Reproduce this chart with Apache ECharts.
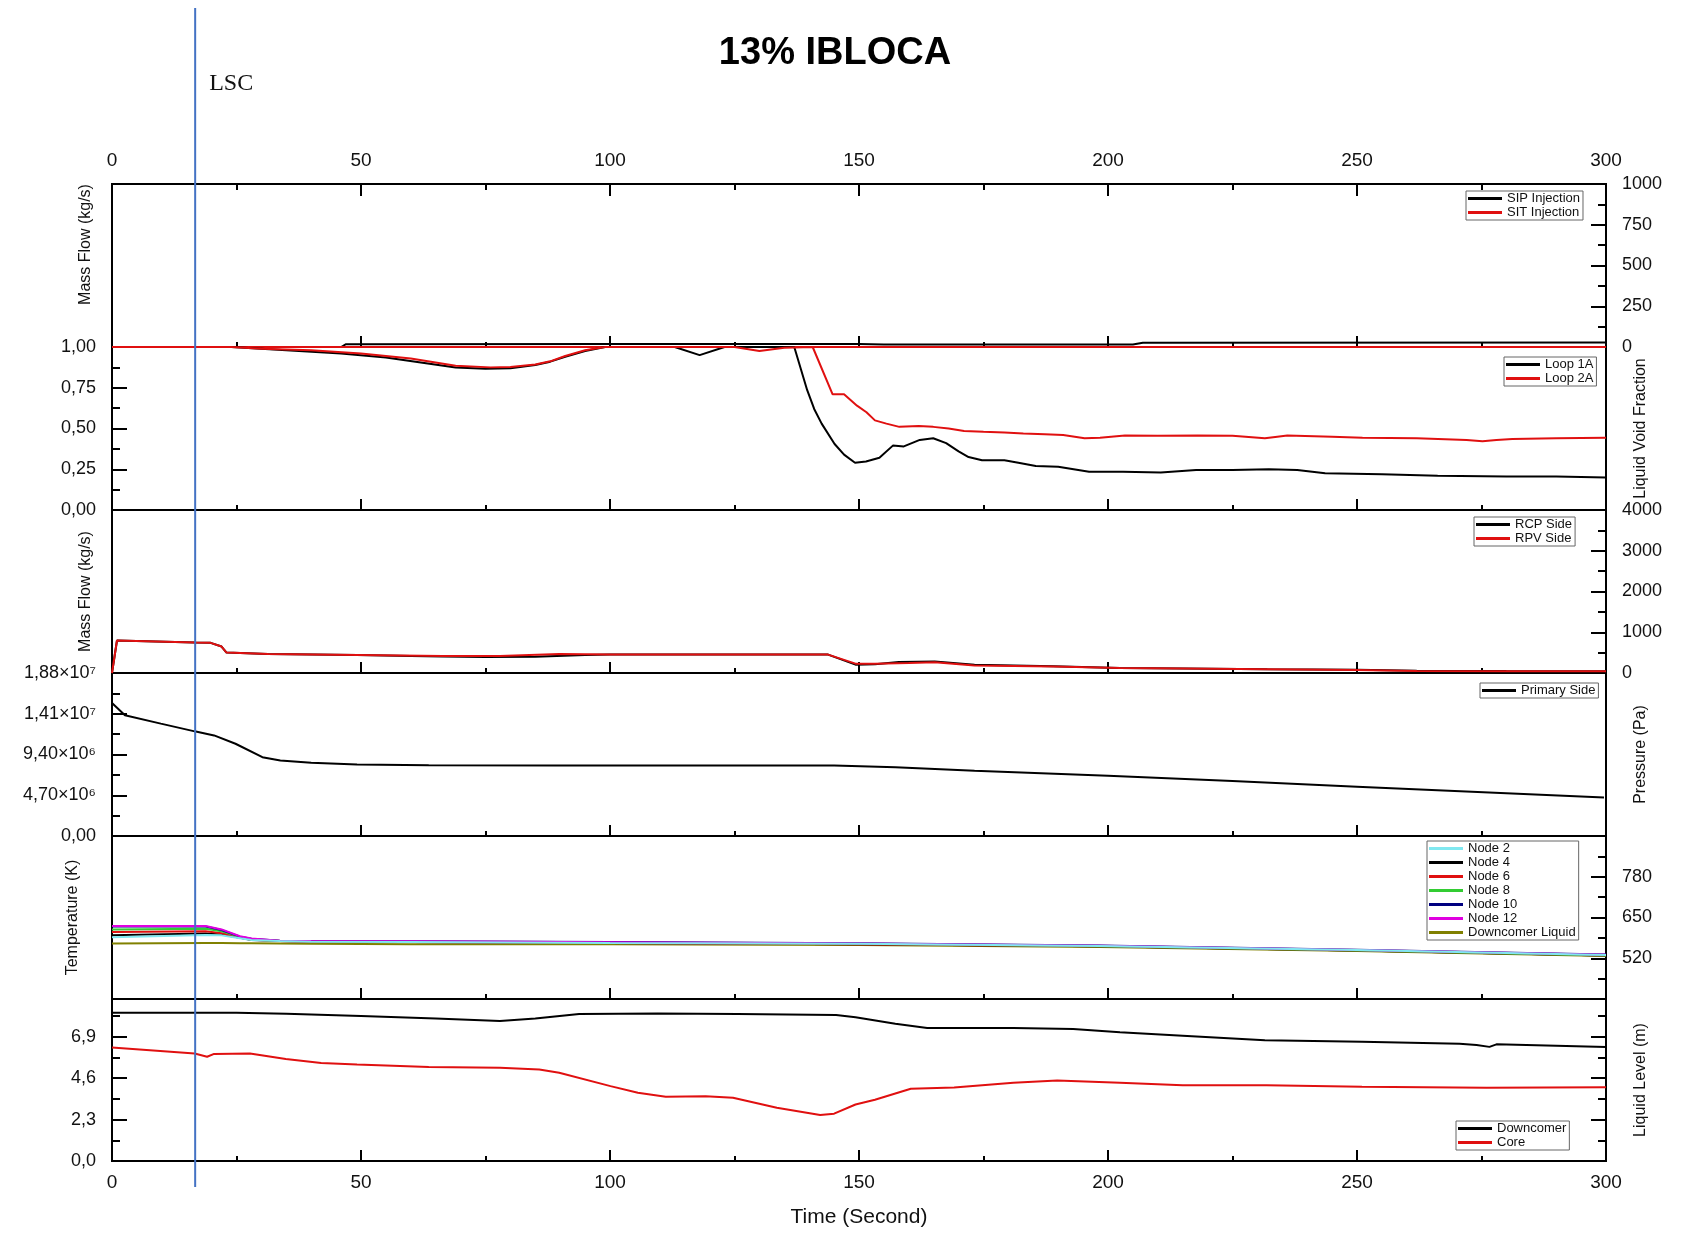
<!DOCTYPE html>
<html>
<head>
<meta charset="utf-8">
<title>13% IBLOCA</title>
<script src="https://cdn.jsdelivr.net/npm/echarts@6/dist/echarts.min.js"></script>
<style>
  html, body { margin: 0; padding: 0; background: #fff; }
  #main { width: 1688px; height: 1233px; }
</style>
</head>
<body>
<div id="main"></div>
<script>
// ---- data: [time (s), value] ----
var LSC_TIME = 16.7;

// panel 1 : injection mass flow (kg/s)
var sipInjection = [[0,0],[46,0],[47,17],[100,18],[150,18],[155,15],[205,16],[207,26],[300,28]];
var sitInjection = [[0,0],[300,0]];

// panel 2 : liquid void fraction
var loop1A = [[0,1],[24,1],[35,0.98],[46,0.96],[55,0.935],[62,0.905],[69,0.874],[75,0.866],[80,0.87],[85,0.89],
  [88,0.91],[91,0.94],[95,0.975],[99,1],[113,1],[118,0.95],[123,1],[137,1],[139.6,0.735],[141,0.62],
  [142.5,0.53],[145.1,0.405],[147,0.34],[149.2,0.29],[151.4,0.298],[154.1,0.32],[156.8,0.395],[159,0.39],[162.2,0.43],[164.9,0.44],
  [167.5,0.41],[170,0.36],[172,0.325],[174.7,0.305],[179.2,0.305],[182,0.29],[185.5,0.27],[190,0.265],[196.2,0.235],[203,0.235],
  [210.6,0.23],[217.7,0.245],[225,0.245],[232.3,0.25],[238,0.245],[243.6,0.225],[255,0.22],[266.2,0.21],[280,0.205],[290,0.205],[300,0.2]];
var loop2A = [[0,1],[24,1],[30,0.99],[40,0.98],[50,0.96],[60,0.93],[69,0.885],[76,0.875],[80,0.878],[85,0.893],
  [88,0.912],[91,0.945],[95,0.98],[99,1],[125,1],[130,0.975],[135,0.995],[140.7,1],[144.7,0.71],[147,0.71],
  [149.6,0.64],[151.5,0.6],[153.2,0.55],[155.5,0.53],[158.1,0.51],[162,0.515],[164.9,0.51],[168,0.5],[171.1,0.485],[175,0.48],
  [179.2,0.475],[183,0.47],[187.3,0.465],[191,0.46],[195.3,0.44],[198.4,0.443],[203.4,0.457],[210,0.455],[218,0.457],[225,0.455],
  [231.5,0.44],[234,0.45],[236,0.457],[245,0.45],[251.1,0.443],[262,0.44],[272,0.43],[275.2,0.422],[278,0.43],[281.2,0.435],[290,0.44],[300,0.443]];

// panel 3 : break mass flow (kg/s)
var rcpSide = [[0,0],[1,797],[16.6,749],[19.8,740],[22,650],[23,502],[31.3,469],[49.2,444],[60,420],[66.4,403],
  [75,395],[85,400],[95,440],[100,452],[143.8,452],[149.3,205],[153.2,215],[158,270],[165.2,283],[173.2,200],
  [189,165],[202.4,125],[215,112],[232,95],[250,80],[262,55],[280,50],[300,45]];
var rpvSide = [[0,0],[1,797],[16.6,749],[19.8,740],[22,650],[23,502],[31.3,469],[49.2,444],[66.4,420],[77.9,415],
  [89.8,465],[100,452],[143.8,452],[149.3,230],[153.2,230],[160,245],[165.2,262],[173.2,187],[189,160],[202.4,123],
  [215,110],[232,92],[250,75],[262,49],[280,45],[300,40]];

// panel 4 : primary pressure (Pa)
var primarySide = [[0,1.535e7],[2.6,1.393e7],[9.8,1.296e7],[16.6,1.207e7],[20.5,1.16e7],[24.8,1.064e7],[30.2,9.09e6],
  [33.8,8.70e6],[40,8.45e6],[49.2,8.24e6],[63.6,8.15e6],[89.2,8.12e6],[145,8.12e6],[157.3,7.93e6],[173.2,7.54e6],
  [200,6.96e6],[225,6.33e6],[250,5.69e6],[299.6,4.45e6]];

// panel 5 : temperatures (K)
var tempTime = [0, 18.8, 22, 25.7, 28, 33.7, 40, 60, 100, 150, 198.4, 250, 300];
var node2  = [587, 594, 593, 584, 578, 575, 573, 572, 569, 566, 559, 546, 530];
var node4  = [593, 599, 596, 585, 578, 575, 573, 572, 569, 565, 558, 545, 529];
var node6  = [604, 606, 600, 586, 579, 575, 573, 572, 569, 565, 558, 545, 529];
var node8  = [612, 614, 606, 588, 580, 575, 574, 573, 570, 566, 558, 545, 529];
var node10 = [621, 621, 610, 589, 582, 576, 575, 574, 572, 568, 561, 547, 532];
var node12 = [623, 623, 612, 590, 583, 576, 575, 574, 571, 567, 560, 546, 531];
var downcomerLiquid = [567, 569, 569, 568, 568, 567, 566, 565, 565, 562, 556, 543, 527];

// panel 6 : liquid level (m)
var downcomerLevel = [[0,8.24],[25,8.24],[35,8.18],[50,8.05],[65,7.92],[77.9,7.78],[85,7.92],[93.8,8.17],[109.6,8.19],[125.6,8.17],
  [145.4,8.11],[149.3,7.98],[157.3,7.63],[163.7,7.39],[181,7.39],[193,7.33],[202.4,7.15],[215,6.96],[231.5,6.71],[251,6.62],
  [270.6,6.52],[274,6.45],[276.6,6.34],[278,6.48],[300,6.34]];
var coreLevel = [[0,6.3],[16.6,5.97],[19.1,5.79],[20.5,5.95],[27.7,5.97],[34.9,5.67],[42,5.45],[49.2,5.36],[63.6,5.22],[77.9,5.18],
  [85.8,5.08],[89.8,4.9],[100.1,4.16],[105.6,3.79],[111.2,3.57],[119.2,3.6],[124.7,3.51],[133.5,2.96],[142.2,2.55],[145,2.63],
  [149.3,3.14],[153.2,3.4],[160.4,4.01],[169.1,4.08],[181,4.35],[189.8,4.47],[202.4,4.35],[215,4.21],[231.8,4.21],[251,4.12],
  [276,4.07],[300,4.1]];

// ---- layout ----
var FONT = '"Liberation Sans", Arial, sans-serif';
var panelTop = [184, 347, 510, 673, 836, 999];
var panelH = [163, 163, 163, 163, 163, 162];
var tickStyle = { color: '#000', width: 2 };

function zip(t, v) {
  return t.map(function (x, i) { return [x, v[i]]; });
}
function comma(d) {
  return function (v) { return v.toFixed(d).replace('.', ','); };
}
function plain(v) { return String(Math.round(v)); }
function sciLabel(v) {
  if (v === 0) return '0,00';
  var sup = '⁰¹²³⁴⁵⁶⁷⁸⁹';
  var e = Math.floor(Math.log10(v) + 1e-9);
  var m = v / Math.pow(10, e);
  return m.toFixed(2).replace('.', ',') + '×10' + String(e).split('').map(function (c) { return sup[+c]; }).join('');
}

function timeAxis(i, pos, labels) {
  return {
    type: 'value', gridIndex: i, position: pos, min: 0, max: 300, interval: 50,
    axisLine: { show: false, onZero: false },
    axisTick: { inside: true, length: pos === 'top' ? 12 : 11, lineStyle: tickStyle },
    minorTick: { show: true, splitNumber: 2, length: pos === 'top' ? 6 : 5, lineStyle: tickStyle },
    axisLabel: { show: labels, fontSize: 19, color: '#111', fontFamily: FONT, margin: pos === 'top' ? 14 : 12 },
    splitLine: { show: false }
  };
}
// axis carrying the scale, ticks and numbers
function valueAxis(i, pos, min, max, interval, fmt) {
  return {
    type: 'value', gridIndex: i, position: pos, min: min, max: max, interval: interval,
    axisLine: { show: false, onZero: false },
    axisTick: { inside: true, length: 15, lineStyle: tickStyle },
    minorTick: { show: true, splitNumber: 2, length: 8, lineStyle: tickStyle },
    axisLabel: { fontSize: 18, color: '#111', fontFamily: FONT, margin: 16, formatter: fmt || plain },
    splitLine: { show: false }
  };
}
// axis that only carries the title on the other side
function nameAxis(i, pos, name, gap, padding) {
  return {
    type: 'value', gridIndex: i, position: pos, min: 0, max: 1,
    axisLine: { show: false, onZero: false }, axisTick: { show: false }, minorTick: { show: false },
    axisLabel: { show: false }, splitLine: { show: false },
    name: name, nameLocation: 'middle', nameGap: gap,
    nameTextStyle: { fontSize: 16, color: '#111', fontFamily: FONT, padding: padding || 0 }
  };
}

var xAxes = [];
for (var i = 0; i < 6; i++) xAxes.push(timeAxis(i, 'bottom', i === 5));
xAxes[5].name = 'Time (Second)';
xAxes[5].nameLocation = 'middle';
xAxes[5].nameGap = 46;
xAxes[5].nameTextStyle = { fontSize: 21, color: '#111', fontFamily: FONT };
xAxes.push(timeAxis(0, 'top', true));

var yAxes = [
  valueAxis(0, 'right', 0, 1000, 250),
  nameAxis(0, 'left', 'Mass Flow (kg/s)', 18, [0, 0, 0, 42]),
  valueAxis(1, 'left', 0, 1, 0.25, comma(2)),
  nameAxis(1, 'right', 'Liquid Void Fraction', 27),
  valueAxis(2, 'right', 0, 4000, 1000),
  nameAxis(2, 'left', 'Mass Flow (kg/s)', 18),
  valueAxis(3, 'left', 0, 1.88e7, 4.7e6, sciLabel),
  nameAxis(3, 'right', 'Pressure (Pa)', 27),
  valueAxis(4, 'right', 390, 910, 130),
  nameAxis(4, 'left', 'Temperature (K)', 31),
  valueAxis(5, 'left', 0, 9, 2.3, comma(1)),
  valueAxis(5, 'right', 0, 9, 2.3)
];
yAxes[8].axisLabel.showMinLabel = false;
yAxes[8].axisLabel.showMaxLabel = false;
yAxes[10].axisLabel.showMaxLabel = false;
yAxes[11].axisLabel = { show: false };
yAxes[11].name = 'Liquid Level (m)';
yAxes[11].nameLocation = 'middle';
yAxes[11].nameGap = 27;
yAxes[11].nameTextStyle = { fontSize: 16, color: '#111', fontFamily: FONT };

function line(name, data, grid, yIndex, color) {
  return {
    type: 'line', name: name, data: data, xAxisIndex: grid, yAxisIndex: yIndex,
    symbol: 'none', showSymbol: false, color: color,
    lineStyle: { color: color, width: 2 }
  };
}

var RED = '#e01010';
var series = [
  line('SIP Injection', sipInjection, 0, 0, '#000'),
  line('SIT Injection', sitInjection, 0, 0, RED),
  line('Loop 1A', loop1A, 1, 2, '#000'),
  line('Loop 2A', loop2A, 1, 2, RED),
  line('RCP Side', rcpSide, 2, 4, '#000'),
  line('RPV Side', rpvSide, 2, 4, RED),
  line('Primary Side', primarySide, 3, 6, '#000'),
  line('Downcomer Liquid', zip(tempTime, downcomerLiquid), 4, 8, '#808000'),
  line('Node 4', zip(tempTime, node4), 4, 8, '#000'),
  line('Node 6', zip(tempTime, node6), 4, 8, RED),
  line('Node 8', zip(tempTime, node8), 4, 8, '#33cc33'),
  line('Node 10', zip(tempTime, node10), 4, 8, '#000080'),
  line('Node 12', zip(tempTime, node12), 4, 8, '#e000e0'),
  line('Node 2', zip(tempTime, node2), 4, 8, '#80e8f0'),
  line('Downcomer', downcomerLevel, 5, 10, '#000'),
  line('Core', coreLevel, 5, 10, RED)
];

function legendBox(names, left, top) {
  return {
    data: names, left: left, top: top, orient: 'vertical', icon: 'rect',
    itemWidth: 34, itemHeight: 3, itemGap: 1, padding: [1, 3, 1, 2],
    borderColor: '#666', borderWidth: 1, backgroundColor: '#fff', selectedMode: false,
    textStyle: { fontSize: 13, color: '#111', fontFamily: FONT }
  };
}

var grids = panelTop.map(function (t, i) {
  return { left: 112, right: 82, top: t, height: panelH[i], show: true, borderColor: '#000', borderWidth: 2, backgroundColor: 'transparent' };
});

var option = {
  animation: false,
  backgroundColor: '#fff',
  textStyle: { fontFamily: FONT },
  title: {
    text: '13% IBLOCA', left: 830, top: 30, textAlign: 'center',
    textStyle: { fontSize: 38, fontWeight: 'bold', color: '#000', fontFamily: FONT }
  },
  grid: grids,
  xAxis: xAxes,
  yAxis: yAxes,
  legend: [
    legendBox(['SIP Injection', 'SIT Injection'], 1466, 191),
    legendBox(['Loop 1A', 'Loop 2A'], 1504, 357),
    legendBox(['RCP Side', 'RPV Side'], 1474, 517),
    legendBox(['Primary Side'], 1480, 683),
    legendBox(['Node 2', 'Node 4', 'Node 6', 'Node 8', 'Node 10', 'Node 12', 'Downcomer Liquid'], 1427, 841),
    legendBox(['Downcomer', 'Core'], 1456, 1121)
  ],
  series: series
};

var chart = echarts.init(document.getElementById('main'));
chart.setOption(option);

// LSC marker: position taken from the time scale
var lx = chart.convertToPixel({ xAxisIndex: 0 }, LSC_TIME);
chart.setOption({
  graphic: [
    { type: 'line', z: 100, shape: { x1: lx, y1: 8, x2: lx, y2: 1187 }, style: { stroke: '#4472c4', lineWidth: 2 } },
    { type: 'text', z: 100, x: lx + 14, y: 84,
      style: { text: 'LSC', fill: '#111', font: '24px "Liberation Serif", "DejaVu Serif", serif', verticalAlign: 'middle' } }
  ]
});
</script>
</body>
</html>
